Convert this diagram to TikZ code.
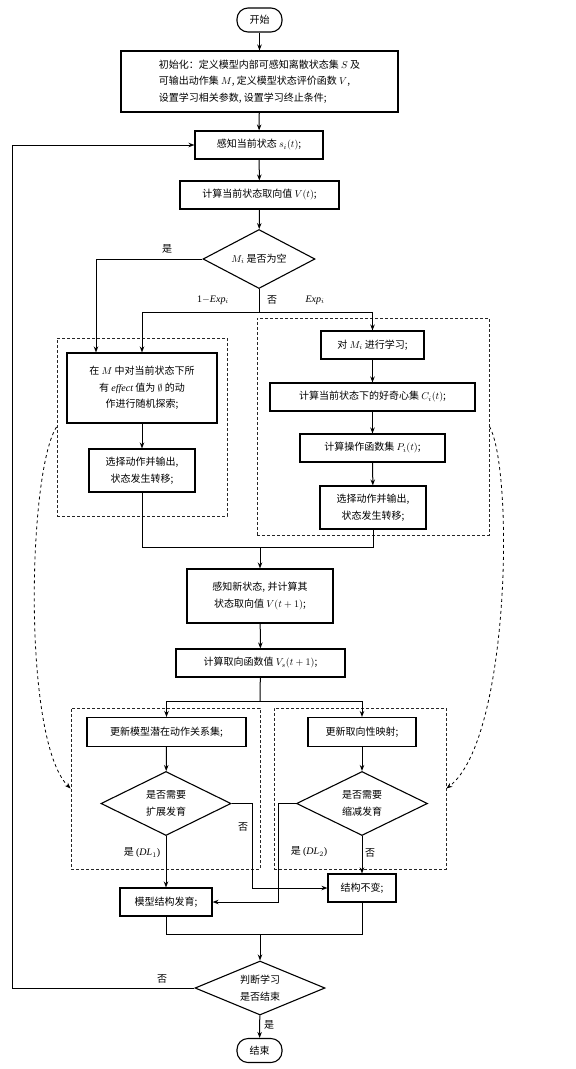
\documentclass[tikz,border=0pt]{standalone}
\usepackage{fontspec}
\setmainfont{Noto Sans CJK SC}
\newfontfamily\latin{Liberation Serif}
\usetikzlibrary{shapes.geometric,arrows.meta}
\tikzstyle{proc} = [rectangle, draw=black, line width=1.1pt, inner sep=2pt, align=center]
\tikzstyle{decide} = [diamond, draw=black, line width=1.1pt, aspect=2, inner sep=0pt, align=center]
\tikzstyle{term} = [rectangle, rounded corners=11pt, draw=black, line width=1.1pt, minimum width=45pt, minimum height=24pt]
\tikzstyle{groupbox} = [rectangle, draw=black!85, dashed, dash pattern=on 3pt off 2pt, line width=0.9pt]
\tikzstyle{arr} = [-{Stealth[length=6pt,width=4.5pt]}, line width=1pt]
\tikzstyle{link} = [line width=1pt]
\tikzstyle{lbl} = [inner sep=1pt]
\newcommand{\en}[1]{{\latin\itshape #1}}

\begin{document}
\begin{tikzpicture}[x=1pt, y=-1pt, font=\fontsize{10}{16.5}\selectfont]%
	\useasboundingbox[fill=white] (0,0) rectangle (576,1069);%
	% dashed groups
	\node [groupbox, minimum width=170pt, minimum height=178pt] (grpL) at (142,427) {};%
	\node [groupbox, minimum width=232pt, minimum height=217pt] (grpR) at (373,426.5) {};%
	\node [groupbox, minimum width=189pt, minimum height=161pt] (grpBL) at (165.5,788.5) {};%
	\node [groupbox, minimum width=172pt, minimum height=161pt] (grpBR) at (360,788.5) {};%
	% main column
	\node [term] (start) at (259.5,20) {开始};%
	\node [proc, minimum width=277pt, minimum height=61pt, align=left] (init) at (259.5,81.5)
		{初始化：定义模型内部可感知离散状态集 $S$ 及\\可输出动作集 $M$, 定义模型状态评价函数 $V$,\\设置学习相关参数, 设置学习终止条件;};%
	\node [proc, minimum width=128pt, minimum height=28pt] (sense) at (259,145) {感知当前状态 $s_i(t)$;};%
	\node [proc, minimum width=159pt, minimum height=28pt] (val) at (259.5,195) {计算当前状态取向值 $V(t)$;};%
	\node [decide, minimum width=112pt, minimum height=59pt] (empty) at (259,259) {$M_i$ 是否为空};%
	% left branch
	\node [proc, minimum width=150pt, minimum height=70pt] (explore) at (142,388)
		{在 $M$ 中对当前状态下所\\有 \en{effect} 值为 $\emptyset$ 的动\\作进行随机探索;};%
	\node [proc, minimum width=106pt, minimum height=43pt] (act1) at (142,470.5) {选择动作并输出,\\状态发生转移;};%
	% right branch
	\node [proc, minimum width=103pt, minimum height=28pt] (learn) at (372.5,345) {对 $M_i$ 进行学习;};%
	\node [proc, minimum width=205pt, minimum height=28pt] (curio) at (372.5,397) {计算当前状态下的好奇心集 $C_i(t)$;};%
	\node [proc, minimum width=145pt, minimum height=28pt] (oper) at (372.5,448) {计算操作函数集 $P_i(t)$;};%
	\node [proc, minimum width=106pt, minimum height=43pt] (act2) at (373,507.5) {选择动作并输出,\\状态发生转移;};%
	% after action
	\node [proc, minimum width=146pt, minimum height=54pt] (newst) at (260,596) {感知新状态, 并计算其\\状态取向值 $V(t+1)$;};%
	\node [proc, minimum width=169pt, minimum height=28pt] (func) at (260.5,663) {计算取向函数值 $V_s(t+1)$;};%
	\node [proc, minimum width=159pt, minimum height=29pt] (upd1) at (166.5,732) {更新模型潜在动作关系集;};%
	\node [proc, minimum width=108pt, minimum height=29pt] (upd2) at (362,732) {更新取向性映射;};%
	\node [decide, minimum width=130pt, minimum height=64pt] (develop) at (166,803.5) {是否需要\\扩展发育};%
	\node [decide, minimum width=131pt, minimum height=64pt] (shrink) at (362,803.5) {是否需要\\缩减发育};%
	\node [proc, minimum width=92pt, minimum height=28pt] (grow) at (166,902) {模型结构发育;};%
	\node [proc, minimum width=68pt, minimum height=28pt] (keep) at (362,888) {结构不变;};%
	\node [decide, minimum width=130pt, minimum height=54pt] (judge) at (260,988) {判断学习\\是否结束};%
	\node [term] (stop) at (259.5,1050.5) {结束};%
	% junctions
	\coordinate (split1) at (259,312);%
	\coordinate (join1) at (260,547);%
	\coordinate (split2) at (260,701);%
	\coordinate (join2) at (260,934);%
	% connectors
	\draw [arr] (start) -- (init);%
	\draw [arr] (init) -- (sense);%
	\draw [arr] (sense) -- (val);%
	\draw [arr] (val) -- (empty);%
	\draw [arr] (empty.west) -| ([xshift=-46pt]explore.north);%
	\draw [link] (empty.south) -- (split1);%
	\draw [arr] (split1) -| (explore.north);%
	\draw [arr] (split1) -| (learn.north);%
	\draw [arr] (explore) -- (act1);%
	\draw [arr] (learn) -- (curio);%
	\draw [arr] (curio) -- (oper);%
	\draw [arr] (oper) -- (act2);%
	\draw [link] (act1.south) |- (join1);%
	\draw [link] (act2.south) |- (join1);%
	\draw [arr] (join1) -- (newst);%
	\draw [arr] (newst) -- (func);%
	\draw [link] (func) -- (split2);%
	\draw [arr] (split2) -| (upd1.north);%
	\draw [arr] (split2) -| (upd2.north);%
	\draw [arr] (upd1) -- (develop);%
	\draw [arr] (upd2) -- (shrink);%
	\draw [arr] (develop) -- (grow);%
	\draw [arr] (develop.east) -- ++(21,0) |- (keep.west);%
	\draw [arr] (shrink.west) -- ++(-17,0) |- (grow.east);%
	\draw [arr] (shrink) -- (keep);%
	\draw [link] (grow.south) |- (join2);%
	\draw [link] (keep.south) |- (join2);%
	\draw [arr] (join2) -- (judge);%
	\draw [arr] (judge.west) -- ++(-181.5,0) |- (sense.west);%
	\draw [arr] (judge) -- (stop);%
	% dashed feedback
	\draw [arr, dashed, line width=0.8pt] (grpL.west) .. controls (28,470) and (22,740) .. (grpBL.west);%
	\draw [arr, dashed, line width=0.8pt] (grpR.east) .. controls (514,470) and (510,740) .. (grpBR.east);%
	% labels
	\node [lbl] (lyes1) at (167,249) {是};%
	\node [lbl] (lexpn) at (213,300) {{\latin 1}$-$\en{Exp}$_i$};%
	\node [lbl] (lno1) at (272,300) {否};%
	\node [lbl] (lexp) at (315,300) {\en{Exp}$_i$};%
	\node [lbl] (ldl1) at (142,853) {是 {\latin (}\en{DL}$_1${\latin )}};%
	\node [lbl] (lno2) at (243,827) {否};%
	\node [lbl] (ldl2) at (309,852) {是 {\latin (}\en{DL}$_2${\latin )}};%
	\node [lbl] (lno3) at (370,853) {否};%
	\node [lbl] (lno4) at (162,979) {否};%
	\node [lbl] (lyes2) at (269,1025) {是};%
\end{tikzpicture}
\end{document}
